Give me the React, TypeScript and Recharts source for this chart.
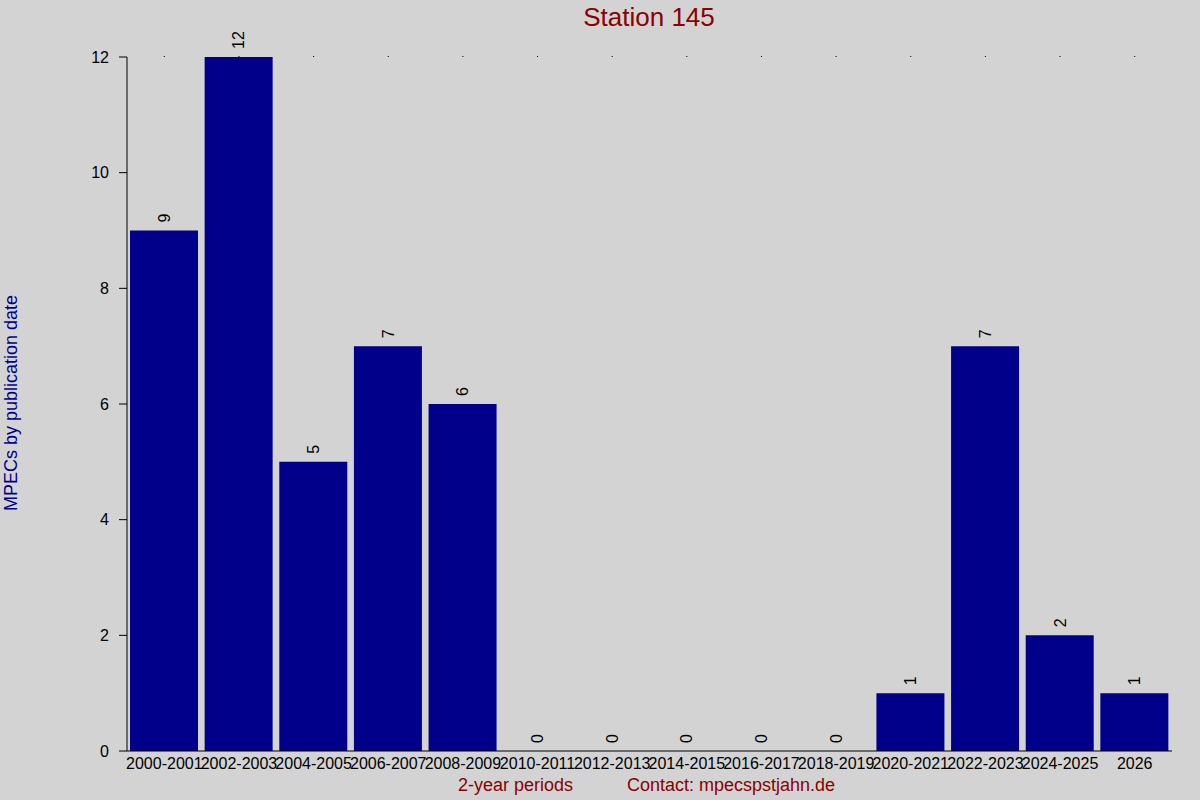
import { ComposedChart, Bar, Line, XAxis, YAxis, LabelList } from 'recharts';

const periods = [
  '2000-2001', '2002-2003', '2004-2005', '2006-2007', '2008-2009', '2010-2011', '2012-2013',
  '2014-2015', '2016-2017', '2018-2019', '2020-2021', '2022-2023', '2024-2025', '2026',
];
const mpecCounts = [9, 12, 5, 7, 6, 0, 0, 0, 0, 0, 1, 7, 2, 1];
const yTicks = [0, 2, 4, 6, 8, 10, 12];

const data = periods.map((p, i) => ({ period: p, count: mpecCounts[i] }));

const FONT = '"Liberation Sans", Arial, sans-serif';

// rotated value label above each bar (also for the empty periods)
const ValueLabel = (props: any) => {
  const { x, y, value } = props;
  const cx = Number(x);
  const ty = Number(y) - 8;
  return (
    <text
      x={cx}
      y={ty}
      transform={`rotate(-90 ${cx} ${ty})`}
      textAnchor="start"
      dominantBaseline="central"
      fontSize={16}
      fontFamily={FONT}
      fill="#000"
    >
      {value}
    </text>
  );
};

const TopDot = (props: any) => (
  <rect x={Number(props.x) - 0.5} y={Number(props.y) - 1} width={1} height={1} fill="#000" />
);

export default function App() {
  return (
    <div style={{
      position: 'fixed', left: 0, top: 0, width: 1200, height: 800,
      background: '#d3d3d3', fontFamily: FONT, overflow: 'hidden',
    }}>
      <div style={{
        position: 'absolute', left: 0, top: 2, width: 1298, textAlign: 'center',
        fontSize: 26, color: '#8b0000',
      }}>
        Station 145
      </div>
      <div style={{ position: 'absolute', left: 11, top: 403, width: 0, height: 0 }}>
        <div style={{
          position: 'absolute', left: 0, top: 0, transform: 'translate(-50%, -50%) rotate(-90deg)',
          whiteSpace: 'nowrap', fontSize: 18, color: '#00008b',
        }}>
          MPECs by publication date
        </div>
      </div>
      <div style={{ position: 'absolute', left: 458, top: 775, fontSize: 18, color: '#8b0000', whiteSpace: 'nowrap' }}>
        2-year periods
      </div>
      <div style={{ position: 'absolute', left: 627, top: 775, fontSize: 18, color: '#8b0000', whiteSpace: 'nowrap' }}>
        Contact: mpecspstjahn.de
      </div>
      <ComposedChart
        width={1200}
        height={800}
        data={data}
        margin={{ top: 56, right: 28, left: 0, bottom: 19 }}
        barSize={68}
      >
        <XAxis
          xAxisId="top"
          orientation="top"
          dataKey="period"
          height={1}
          axisLine={false}
          tickLine={false}
          tickSize={0}
          tickMargin={0}
          tick={TopDot}
          interval={0}
        />
        <XAxis
          dataKey="period"
          interval={0}
          height={30}
          tickSize={0}
          tickMargin={7}
          axisLine={{ stroke: '#000' }}
          tickLine={false}
          tick={{ fill: '#000', fontSize: 16, fontFamily: FONT }}
        />
        <YAxis
          width={127}
          domain={[0, 12]}
          ticks={yTicks}
          tickSize={8}
          tickMargin={10}
          axisLine={{ stroke: '#000' }}
          tickLine={{ stroke: '#000' }}
          tick={{ fill: '#000', fontSize: 16, fontFamily: FONT }}
        />
        <Bar dataKey="count" fill="#00008b" isAnimationActive={false} />
        <Line
          dataKey="count"
          stroke="none"
          dot={false}
          activeDot={false}
          isAnimationActive={false}
        >
          <LabelList dataKey="count" content={ValueLabel} />
        </Line>
      </ComposedChart>
    </div>
  );
}
